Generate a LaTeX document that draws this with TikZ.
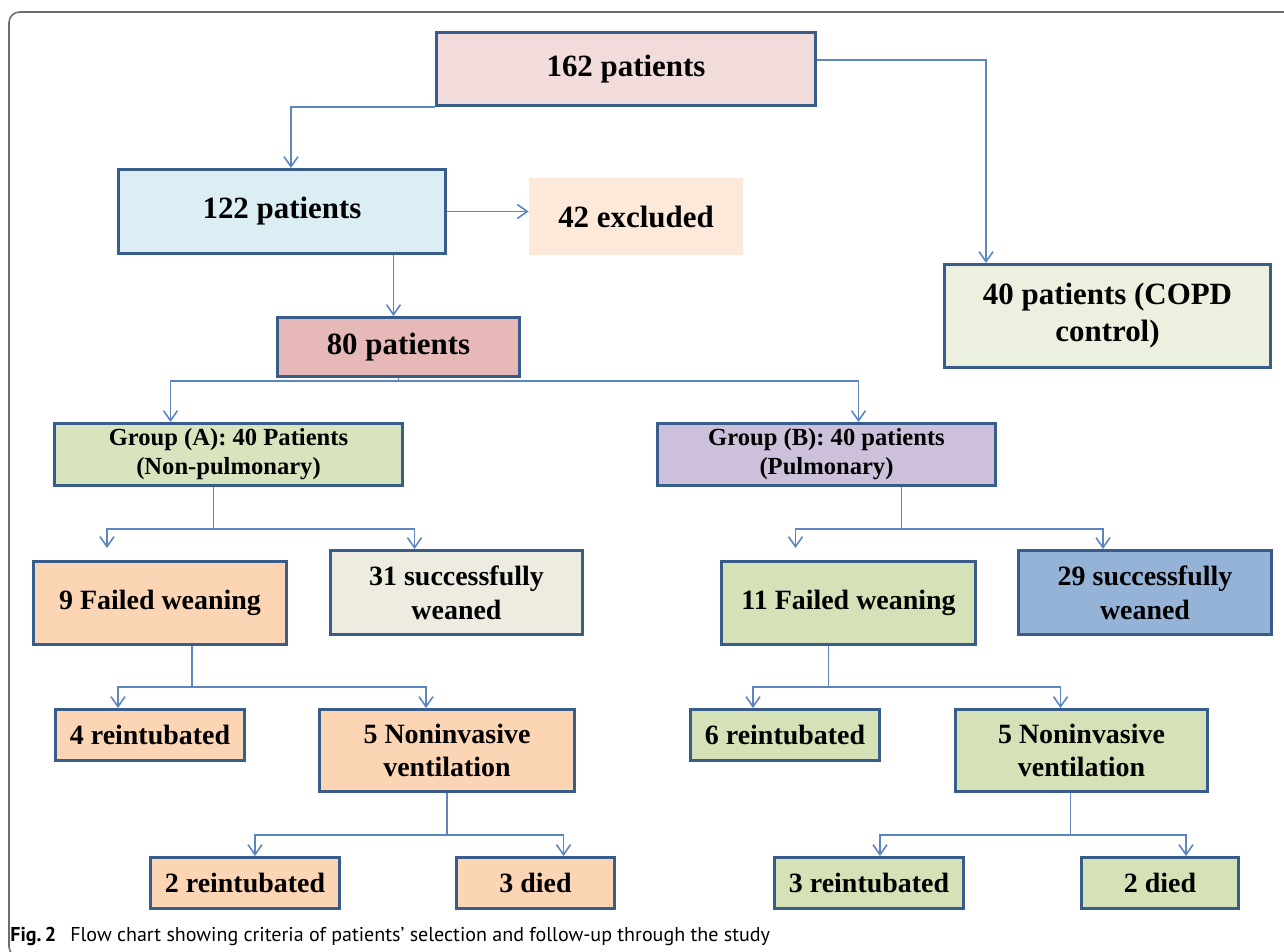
\documentclass[tikz,border=0pt]{standalone}
\usepackage{fontspec}
\setmainfont{Liberation Serif}
\newfontfamily\capfont{PT Sans}
\usetikzlibrary{calc,arrows.meta}
\definecolor{boxline}{HTML}{385D8A}
\definecolor{linkblue}{HTML}{5B86C0}
\definecolor{framegray}{HTML}{6E6E6E}
\definecolor{c162}{HTML}{F2DCDB}
\definecolor{c122}{HTML}{DBEEF4}
\definecolor{cexcl}{HTML}{FDE9D9}
\definecolor{ccopd}{HTML}{EBF1DE}
\definecolor{c80}{HTML}{E6B9B8}
\definecolor{cgrpA}{HTML}{D7E4BD}
\definecolor{cgrpB}{HTML}{CCC0DA}
\definecolor{cpeach}{HTML}{FCD5B5}
\definecolor{csuccA}{HTML}{EEECE1}
\definecolor{cgreen}{HTML}{D5E1B6}
\definecolor{csuccB}{HTML}{95B3D7}
\tikzset{%
  boxdim/.style args={#1 and #2}{minimum width=(#1-3)*0.02cm, minimum height=(#2-3)*0.02cm},
  box/.style={draw=boxline, line width=1.7pt, inner sep=0pt, align=center},
  lvlone/.style={font=\fontsize{17.6}{21}\selectfont\bfseries},
  lvltwo/.style={font=\fontsize{15.9}{19.2}\selectfont\bfseries},
  grpfont/.style={font=\fontsize{14}{16.5}\selectfont\bfseries},
  link/.style={draw=linkblue, line width=0.9pt, -{Straight Barb[length=2mm,width=2.8mm]}}
}
\begin{document}
\begin{tikzpicture}[x=0.02cm, y=-0.02cm]
    \clip (0,0) rectangle (1284,951);
    \fill[white] (0,0) rectangle (1284,951);
    \draw[framegray, line width=0.9pt, rounded corners=6pt] (1300,12) -- (9,12) -- (9,957) -- (60,957); % Frame

    % Top part
    \node[box, lvlone, fill=c162, boxdim=382 and 76] (p162) at (626,69) {162 patients};
    \node[box, lvlone, fill=c122, boxdim=330 and 87] (p122) at (282,211.5) {122 patients};
    \node[lvlone, fill=cexcl, inner sep=0pt, minimum width=214*0.02cm, minimum height=77*0.02cm] (excl) at (636,216.5) {42 excluded};
    \node[box, lvlone, fill=ccopd, boxdim=329 and 106] (copd) at (1107.5,316) {40 patients (COPD\\control)};
    \node[box, lvlone, fill=c80, boxdim=245 and 62] (p80) at (398.5,347) {80 patients};

    % Groups
    \node[box, grpfont, fill=cgrpA, boxdim=351 and 65] (grpA) at (228.5,454.5) {Group (A): 40 Patients\\(Non-pulmonary)};
    \node[box, grpfont, fill=cgrpB, boxdim=341 and 65] (grpB) at (826.5,454.5) {Group (B): 40 patients\\(Pulmonary)};

    % Weaning
    \node[box, lvltwo, fill=cpeach, boxdim=256 and 86] (failA) at (160,603) {9 Failed weaning};
    \node[box, lvltwo, fill=csuccA, boxdim=255 and 87] (succA) at (456.5,592.5) {31 successfully\\weaned};
    \node[box, lvltwo, fill=cgreen, boxdim=257 and 86] (failB) at (848.5,603) {11 Failed weaning};
    \node[box, lvltwo, fill=csuccB, boxdim=256 and 87] (succB) at (1145,592.5) {29 successfully\\weaned};

    % Follow-up
    \node[box, lvltwo, fill=cpeach, boxdim=192 and 54] (reA) at (150,735) {4 reintubated};
    \node[box, lvltwo, fill=cpeach, boxdim=258 and 85] (nivA) at (447,750.5) {5 Noninvasive\\ventilation};
    \node[box, lvltwo, fill=cgreen, boxdim=192 and 54] (reB) at (785,735) {6 reintubated};
    \node[box, lvltwo, fill=cgreen, boxdim=255 and 85] (nivB) at (1081.5,750.5) {5 Noninvasive\\ventilation};
    \node[box, lvltwo, fill=cpeach, boxdim=192 and 54] (reA2) at (245,883) {2 reintubated};
    \node[box, lvltwo, fill=cpeach, boxdim=161 and 54] (diedA) at (535.5,883) {3 died};
    \node[box, lvltwo, fill=cgreen, boxdim=192 and 54] (reB2) at (869,883) {3 reintubated};
    \node[box, lvltwo, fill=cgreen, boxdim=160 and 54] (diedB) at (1160,883) {2 died};

    % Caption
    \node[anchor=base west, inner sep=0pt, font=\capfont\fontsize{11.4}{13}\selectfont] (cap) at (10,941) {\textbf{Fig.\,2}\hspace{0.7em}Flow chart showing criteria of patients’ selection and follow-up through the study};

    % Connectors
    \draw[link] (p162.south west) -| ($(p122.north)+(9,0)$);
    \draw[link] ($(p162.east)+(0,-9)$) -| ($(copd.north west)+(43,0)$);
    \draw[link] (p122.east) -- (p122.east -| excl.west);
    \coordinate (in80) at ($(p80.north)+(-5,0)$);
    \draw[link] (p122.south -| in80) -- (in80);

    \foreach \src/\jx/\jy/\lt/\lx/\ly/\rt/\rx/\ry in {
        p80/0/3/grpA/-58/0/grpB/32/0,
        grpA/-15/42/failA/-53/-12/succA/-42/0,
        grpB/75/42/failB/-53/-12/succB/-42/0,
        failA/32/41/reA/-32/0/nivA/-21/0,
        failB/-20/41/reB/-32/0/nivB/-21/0,
        nivA/0/42/reA2/10/0/diedA/28/0,
        nivB/-11/42/reB2/11/0/diedB/26/0}
        {
        \coordinate (j) at ($(\src.south)+(\jx,\jy)$);
        \draw[link] (\src.south -| j) -- (j) -| ($(\lt.north)+(\lx,\ly)$);
        \draw[link] (j) -| ($(\rt.north)+(\rx,\ry)$);
        }

\end{tikzpicture}
\end{document}
